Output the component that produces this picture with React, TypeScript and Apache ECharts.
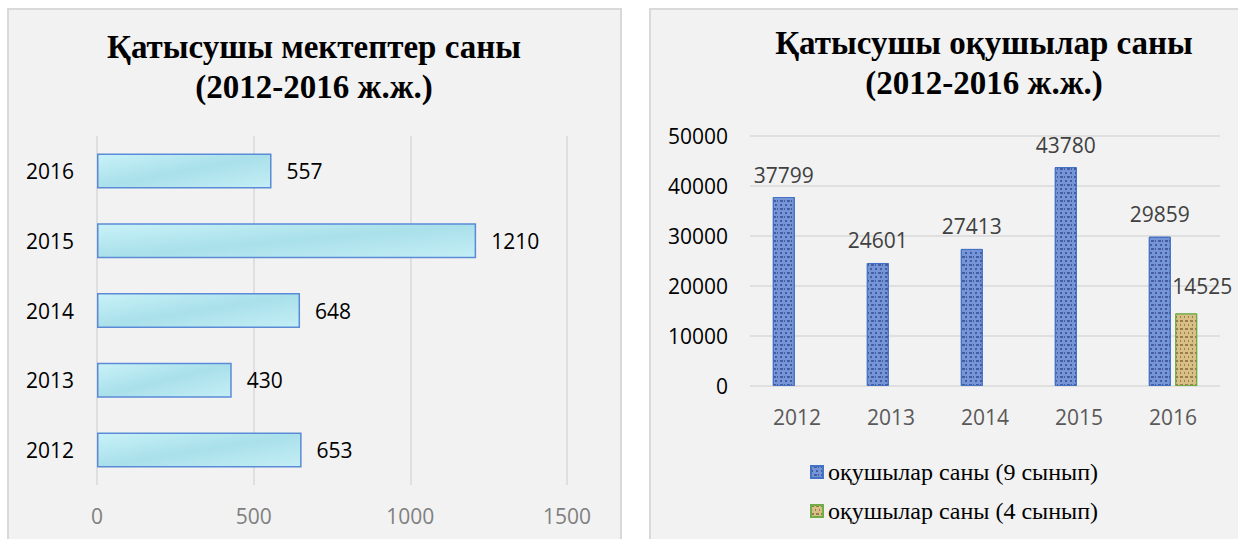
import React, { useEffect, useRef } from "react";
import * as echarts from "echarts";

const years = ["2012", "2013", "2014", "2015", "2016"];
const schools = [653, 430, 648, 1210, 557];
const students9 = [37799, 24601, 27413, 43780, 29859];
const students4 = ["-", "-", "-", "-", 14525];
const schoolTicks = { min: 0, max: 1500, interval: 500 };
const studentTicks = { min: 0, max: 50000, interval: 10000 };
const name9 = "оқушылар саны (9 сынып)";
const name4 = "оқушылар саны (4 сынып)";
const title1 = "Қатысушы мектептер саны\n(2012-2016 ж.ж.)";
const title2 = "Қатысушы оқушылар саны\n(2012-2016 ж.ж.)";

const NUM_FONT = "Open Sans";
const SERIF = "Liberation Serif";
const plain = (v: number) => String(v);

export default function App() {
  const ref = useRef<HTMLDivElement>(null);
  useEffect(() => {
    if (!ref.current) return;
    const chart = echarts.init(ref.current, undefined, { renderer: "svg" });
    const titleStyle = {
      fontFamily: SERIF,
      fontWeight: "bold" as const,
      fontSize: 33,
      lineHeight: 40,
      color: "#000",
    };
    chart.setOption({
      animation: false,
      backgroundColor: "#ffffff",
      graphic: [
        {
          type: "rect",
          z: -100,
          shape: { x: 8, y: 9, width: 613, height: 540 },
          style: { fill: "#f2f2f2", stroke: "#d9d9d9", lineWidth: 2 },
        },
        {
          type: "rect",
          z: -100,
          shape: { x: 650, y: 9, width: 700, height: 540 },
          style: { fill: "#f2f2f2", stroke: "#d9d9d9", lineWidth: 2 },
        },
      ],
      title: [
        {
          text: title1,
          left: 314,
          top: 27,
          padding: 0,
          textAlign: "center",
          textStyle: titleStyle,
        },
        {
          text: title2,
          left: 984,
          top: 23,
          padding: 0,
          textAlign: "center",
          textStyle: titleStyle,
        },
      ],
      legend: {
        orient: "vertical",
        left: 810,
        top: 460,
        padding: 0,
        itemWidth: 12,
        itemHeight: 12,
        itemGap: 15,
        icon: "rect",
        data: [name9, name4],
        textStyle: { fontFamily: SERIF, fontSize: 24, color: "#000" },
      },
      grid: [
        { left: 97, right: 1238 - 567, top: 136, bottom: 539 - 485 },
        { left: 750, right: 1238 - 1220, top: 136, bottom: 539 - 386 },
      ],
      xAxis: [
        {
          gridIndex: 0,
          type: "value",
          ...schoolTicks,
          axisLine: { show: false },
          axisTick: { show: false },
          splitLine: { lineStyle: { color: "#d9d9d9", width: 1.5 } },
          axisLabel: {
            color: "#808080",
            fontSize: 21,
            fontFamily: NUM_FONT,
            margin: 20,
            formatter: plain,
          },
        },
        {
          gridIndex: 1,
          type: "category",
          data: years,
          axisLine: { show: false },
          axisTick: { show: false },
          axisLabel: { color: "#595959", fontSize: 21, fontFamily: NUM_FONT, margin: 20 },
        },
      ],
      yAxis: [
        {
          gridIndex: 0,
          type: "category",
          data: years,
          axisLine: { show: false },
          axisTick: { show: false },
          axisLabel: { color: "#000", fontSize: 21, fontFamily: NUM_FONT, margin: 23 },
        },
        {
          gridIndex: 1,
          type: "value",
          ...studentTicks,
          axisLine: { show: false },
          axisTick: { show: false },
          splitLine: { lineStyle: { color: "#d9d9d9", width: 1.5 } },
          axisLabel: {
            color: "#000",
            fontSize: 21,
            fontFamily: NUM_FONT,
            margin: 22,
            formatter: plain,
          },
        },
      ],
      series: [
        {
          type: "bar",
          name: "schools",
          xAxisIndex: 0,
          yAxisIndex: 0,
          data: schools,
          barWidth: 35,
          itemStyle: {
            color: new echarts.graphic.LinearGradient(0, 0, 1, 1, [
              { offset: 0, color: "#c9f2f8" },
              { offset: 0.5, color: "#a9e0ea" },
              { offset: 1, color: "#c4eef5" },
            ]),
            borderColor: "#5b8bd6",
            borderWidth: 1.5,
          },
          label: {
            show: true,
            position: "right",
            distance: 15,
            color: "#000",
            fontSize: 21,
            fontFamily: NUM_FONT,
          },
        },
        {
          type: "bar",
          name: name9,
          xAxisIndex: 1,
          yAxisIndex: 1,
          data: students9,
          barWidth: 22,
          barGap: "20%",
          itemStyle: {
            color: "#7595d6",
            borderColor: "#4472c4",
            borderWidth: 1,
            decal: {
              symbol: "rect",
              symbolSize: 1,
              color: "rgba(25, 45, 120, 0.55)",
              dashArrayX: [
                [2, 3],
                [1, 2, 3, 1],
              ],
              dashArrayY: [2, 2],
              rotation: 0,
            },
          },
          label: {
            show: true,
            position: "top",
            distance: 12,
            color: "#404040",
            fontSize: 21,
            fontFamily: NUM_FONT,
          },
        },
        {
          type: "bar",
          name: name4,
          xAxisIndex: 1,
          yAxisIndex: 1,
          data: students4.map((v) =>
            v === "-" ? "-" : { value: v, label: { offset: [16, -5] } }
          ),
          barWidth: 22,
          barGap: "20%",
          itemStyle: {
            color: "#d8bf86",
            borderColor: "#70ad47",
            borderWidth: 1,
            decal: {
              symbol: "rect",
              symbolSize: 1,
              color: "rgba(90, 60, 20, 0.5)",
              dashArrayX: [
                [1, 3],
                [3, 2],
              ],
              dashArrayY: [2, 2],
              rotation: 0,
            },
          },
          label: {
            show: true,
            position: "top",
            distance: 12,
            color: "#404040",
            fontSize: 21,
            fontFamily: NUM_FONT,
          },
        },
      ],
    });
    return () => chart.dispose();
  }, []);
  return (
    <div
      ref={ref}
      style={{ position: "fixed", left: 0, top: 0, width: 1238, height: 539 }}
    />
  );
}
